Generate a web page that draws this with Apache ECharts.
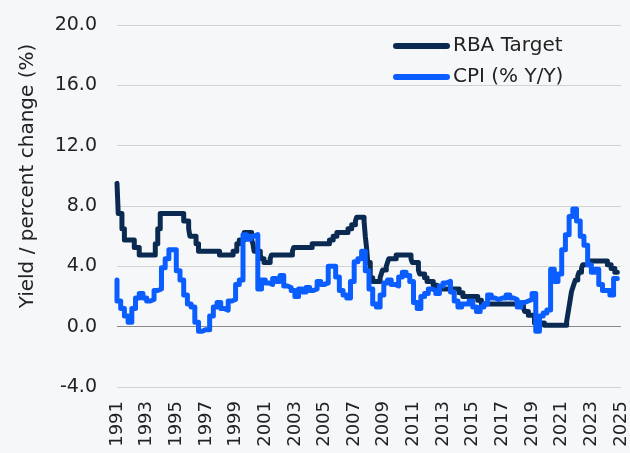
<!DOCTYPE html>
<html>
<head>
<meta charset="utf-8">
<script src="https://cdn.jsdelivr.net/npm/echarts@6/dist/echarts.min.js"></script>
<style>
  html, body { margin: 0; padding: 0; background: #f6f7f9; }
  #chart { width: 630px; height: 453px; }
</style>
</head>
<body>
<div id="chart"></div>
<script>
// ---- Data (dates as positioned on the chart's x-axis, "YYYY-MM") ----
const xTickYears = [1991, 1993, 1995, 1997, 1999, 2001, 2003, 2005, 2007, 2009, 2011, 2013, 2015, 2017, 2019, 2021, 2023, 2025];
const yTicks = [-4, 0, 4, 8, 12, 16, 20];

const rbaDates = ['1991-01','1991-02','1991-05','1991-07','1992-03','1992-07','1993-08','1993-10','1993-12',
  '1995-07','1995-11','1995-12','1996-05','1996-07','1997-12','1998-11','1999-02','1999-04','1999-08',
  '2000-02','2000-03','2000-04','2000-09','2000-10','2000-12','2001-05','2001-06','2002-11','2002-12',
  '2004-03','2005-05','2005-08','2005-11','2006-08','2006-11','2007-02','2007-03','2007-09','2007-10',
  '2007-11','2007-12','2008-02','2008-04','2008-10','2008-11','2008-12','2009-03','2009-04','2009-05',
  '2009-11','2010-11','2010-12','2011-05','2011-06','2011-10','2011-12','2012-05','2012-08','2014-02',
  '2014-05','2015-05','2015-08','2018-06','2018-07','2018-10','2019-03','2019-11','2021-05','2021-06',
  '2021-07','2021-08','2021-09','2021-10','2021-11','2021-12','2022-02','2022-03','2022-05','2022-06',
  '2022-11','2024-02','2024-05','2024-08','2024-10'];
const rbaValues = [9.5,7.5,6.5,5.75,5.25,4.75,5.5,6.5,7.5,
  7.0,6.5,6.0,5.5,5.0,4.75,5.0,5.5,5.75,6.25,
  5.75,5.5,5.0,4.75,4.5,4.25,4.5,4.75,5.0,5.25,
  5.5,5.75,6.0,6.25,6.5,6.75,7.0,7.25,7.0,6.0,
  5.25,4.25,3.25,3.0,3.25,3.5,3.75,4.0,4.25,4.5,
  4.75,4.5,4.25,3.75,3.5,3.25,3.0,2.75,2.5,2.25,
  2.0,1.75,1.5,1.25,1.0,0.75,0.25,0.1,0.35,0.85,
  1.35,1.85,2.35,2.6,2.85,3.1,3.35,3.6,3.85,4.1,
  4.35,4.1,3.85,3.6,3.6];

// CPI: quarterly readings, first quarter starting at cpiFirstQuarter
const cpiFirstQuarter = '1991-01';
const cpiLeadIn = 3.1;           // value at the very left edge before the first quarter
const cpiValues = [
  1.7,1.2,0.7,0.3, 1.2,1.9,2.2,1.9, 1.7,1.8,2.4,2.5, 3.9,4.5,5.1,5.1,
  3.7,3.1,2.1,1.5, 1.3,0.3,-0.3,-0.2, -0.2,0.7,1.3,1.6, 1.2,1.1,1.7,1.8,
  2.8,3.1,6.1,5.8, 6.0,6.1,2.5,3.1, 2.9,2.8,3.2,3.0, 3.4,2.7,2.6,2.4,
  2.0,2.5,2.3,2.6, 2.4,2.5,3.0,2.8, 2.9,4.0,4.0,3.3, 2.4,2.1,1.9,3.0,
  4.3,4.5,5.0,3.7, 2.5,1.5,1.3,2.1, 2.9,3.1,2.8,2.7, 3.3,3.6,3.4,3.0,
  1.6,1.2,2.0,2.2, 2.5,2.4,2.2,2.7, 2.9,3.0,2.3,1.7, 1.3,1.5,1.5,1.7,
  1.3,1.0,1.3,1.5, 2.1,1.9,1.8,1.9, 1.9,2.1,1.9,1.8, 1.3,1.6,1.7,1.8,
  2.2,-0.3,0.7,0.9, 1.1,3.8,3.0,3.5, 5.1,6.1,7.3,7.8, 7.0,6.0,5.4,4.1,
  3.6,3.8,2.8,2.4, 2.4,2.1,3.2];
const cpiEnd = '2024-10';

const seriesNames = ['RBA Target', 'CPI (% Y/Y)'];

// ---- Build ----
function toYear(d) { const p = d.split('-').map(Number); return p[0] + (p[1] - 1) / 12; }

const rbaData = rbaDates.map((d, i) => [toYear(d), rbaValues[i]]);
const cpiStartYear = toYear(cpiFirstQuarter);
const cpiData = [[cpiStartYear, cpiLeadIn]].concat(
  cpiValues.map((v, i) => [cpiStartYear + i / 4, v]),
  [[toYear(cpiEnd), cpiValues[cpiValues.length - 1]]]
);

const FONT = 'DejaVu Sans';
const TXT = '#222222';
const gridColors = yTicks.map(v => v === 0 ? '#8a8a8a' : '#d2d2d2');

const chart = echarts.init(document.getElementById('chart'), null, { renderer: 'canvas' });
chart.setOption({
  backgroundColor: '#f6f7f9',
  animation: false,
  textStyle: { fontFamily: FONT },
  grid: { left: 117, right: 8, top: 25, bottom: 66, containLabel: false },
  legend: {
    data: seriesNames,
    orient: 'vertical',
    left: 388,
    top: 31,
    itemWidth: 57,
    itemHeight: 6,
    itemGap: 11,
    icon: 'path://M3,0 L54,0 A3,3 0 0 1 54,6 L3,6 A3,3 0 0 1 3,0 Z',
    textStyle: { fontFamily: FONT, fontSize: 20, color: TXT, padding: [0, 0, 0, -2] }
  },
  xAxis: {
    type: 'value',
    min: xTickYears[0],
    max: xTickYears[xTickYears.length - 1],
    interval: 2,
    axisLine: { show: false },
    axisTick: { show: false },
    splitLine: { show: false },
    axisLabel: {
      rotate: 90, margin: 14, fontSize: 18, color: TXT, fontFamily: FONT,
      formatter: v => String(v)
    }
  },
  yAxis: {
    type: 'value',
    min: yTicks[0],
    max: yTicks[yTicks.length - 1],
    interval: 4,
    axisLine: { show: false },
    axisTick: { show: false },
    splitLine: { show: true, lineStyle: { color: gridColors, width: 1 } },
    axisLabel: { margin: 20, fontSize: 19, color: TXT, fontFamily: FONT, formatter: v => v.toFixed(1) }
  },
  graphic: [{
    type: 'text',
    x: 28, y: 176,
    rotation: Math.PI / 2,
    style: {
      text: 'Yield / percent change (%)',
      font: '20px "DejaVu Sans"',
      fill: TXT,
      align: 'center',
      verticalAlign: 'middle'
    }
  }],
  series: [
    {
      name: seriesNames[0], type: 'line', step: 'end', data: rbaData,
      showSymbol: false, symbol: 'none',
      color: '#0a2a52',
      lineStyle: { width: 5, color: '#0a2a52', cap: 'round', join: 'round' },
      z: 2
    },
    {
      name: seriesNames[1], type: 'line', step: 'end', data: cpiData,
      showSymbol: false, symbol: 'none',
      color: '#0a5eff',
      lineStyle: { width: 5, color: '#0a5eff', cap: 'round', join: 'round' },
      z: 3
    }
  ]
});
</script>
</body>
</html>
